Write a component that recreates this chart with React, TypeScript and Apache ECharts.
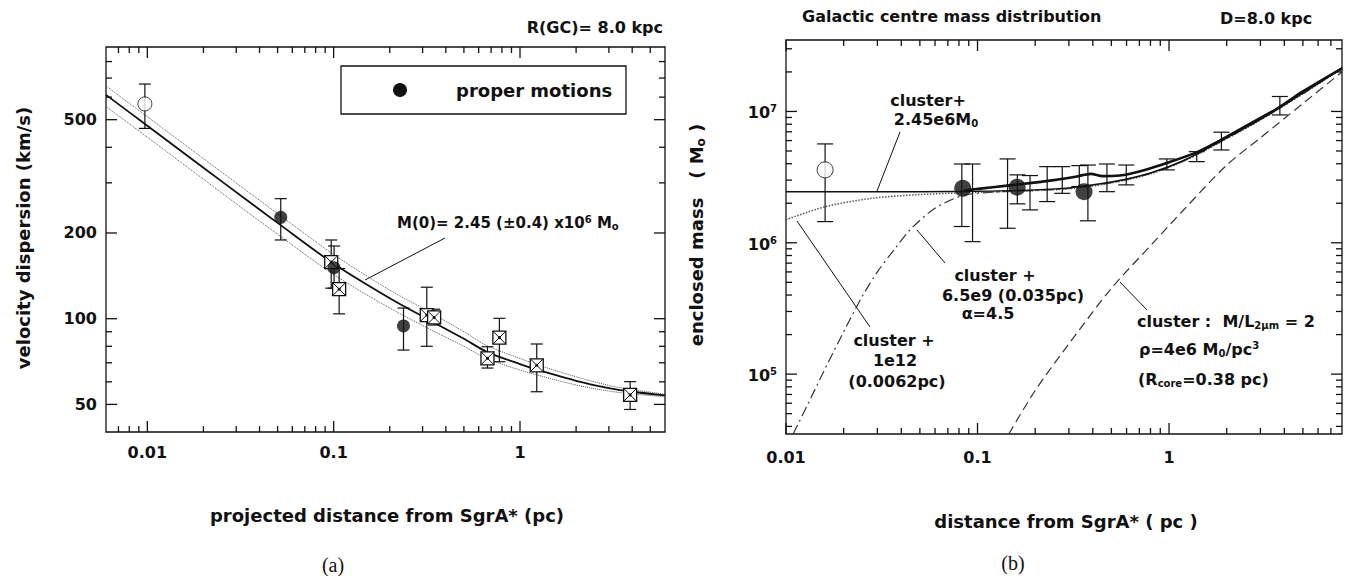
import React, { useEffect, useRef } from "react";
import * as echarts from "echarts";

const FONT = '"DejaVu Sans", "Liberation Sans", sans-serif';
const SERIF = '"Liberation Serif", "DejaVu Serif", serif';
const INK = "#111";

// ---------------- panel (a) ----------------
const aXRange = [0.006, 6];
const aYRange = [40, 900];
const aXMajor = [0.01, 0.1, 1];
const aXLabels = ["0.01", "0.1", "1"];
const aXMinor = [0.007, 0.008, 0.009, 0.02, 0.03, 0.04, 0.05, 0.06, 0.07, 0.08, 0.09, 0.2, 0.3, 0.4, 0.5, 0.6, 0.7, 0.8, 0.9, 2, 3, 4, 5];
const aYMajor = [50, 100, 200, 500];
const aYLabels = ["50", "100", "200", "500"];
const aYMinor = [60, 70, 80, 90, 300, 400, 600, 700, 800];

// [projected distance (pc), dispersion (km/s), low, high]
const aOpenCircle = [[0.0097, 568, 466, 667]];
const aProperMotions = [[0.052, 227, 189, 264], [0.1005, 151, 128, 180], [0.237, 94.3, 77.6, 109]];
const aRadialVel = [
  [0.097, 158, 128, 189], [0.107, 127, 104, 150], [0.316, 103, 80, 129], [0.346, 101, 95, 108],
  [0.669, 72.6, 67.1, 79.7], [0.775, 85.8, 70.6, 100.3], [1.23, 68.6, 55.4, 81.5], [3.9, 54, 48, 60.1],
];
const aFitCentral = [[0.006, 611], [0.01, 476], [0.02, 339], [0.035, 258], [0.05, 217], [0.1, 156], [0.2, 118], [0.316, 100], [0.5, 85], [0.663, 76.5], [1, 69.3], [1.23, 66.3], [2, 60.5], [3, 57], [3.9, 55.5], [6, 53.8]];
const aFitUpper = [[0.006, 657], [0.01, 512], [0.02, 365], [0.035, 278], [0.05, 234], [0.1, 168], [0.2, 126], [0.316, 107], [0.5, 90], [0.663, 80.5], [1, 72.5], [1.23, 69], [2, 62.5], [3, 58.3], [3.9, 56.5], [6, 54.3]];
const aFitLower = [[0.006, 556], [0.01, 434], [0.02, 309], [0.035, 235], [0.05, 198], [0.1, 143], [0.2, 109], [0.316, 93], [0.5, 80], [0.663, 72.5], [1, 66], [1.23, 63.5], [2, 58.5], [3, 55.7], [3.9, 54.5], [6, 53.2]];

// ---------------- panel (b) ----------------
const bXRange = [0.01, 8];
const bYRange = [3.5e4, 3.5e7];
const bXMajor = [0.01, 0.1, 1];
const bXLabels = ["0.01", "0.1", "1"];
const bXMinor = [0.02, 0.03, 0.04, 0.05, 0.06, 0.07, 0.08, 0.09, 0.2, 0.3, 0.4, 0.5, 0.6, 0.7, 0.8, 0.9, 2, 3, 4, 5, 6, 7];
const bYMajor = [1e5, 1e6, 1e7];
const bYExponents = ["5", "6", "7"];
const bYMinor = [4e4, 5e4, 6e4, 7e4, 8e4, 9e4, 2e5, 3e5, 4e5, 5e5, 6e5, 7e5, 8e5, 9e5, 2e6, 3e6, 4e6, 5e6, 6e6, 7e6, 8e6, 9e6, 2e7, 3e7];

// [distance (pc), enclosed mass (Msun), low, high]
const bOpenCircle = [[0.016, 3.59e6, 1.45e6, 5.66e6]];
const bFilled = [[0.0837, 2.6e6], [0.161, 2.65e6], [0.36, 2.45e6]];
// [distance, low, high]
const bErrBars = [
  [0.0828, 1.33e6, 3.98e6], [0.0942, 1.02e6, 3.98e6], [0.1435, 1.29e6, 4.35e6], [0.1614, 1.98e6, 3.29e6],
  [0.188, 1.78e6, 3.25e6], [0.231, 2.06e6, 3.8e6], [0.277, 2.38e6, 3.8e6], [0.34, 2.68e6, 3.87e6],
  [0.377, 1.47e6, 3.91e6], [0.474, 2.45e6, 3.98e6], [0.598, 2.76e6, 3.91e6], [0.974, 3.59e6, 4.35e6],
  [1.395, 4.15e6, 4.94e6], [1.877, 5.09e6, 6.95e6], [3.79, 9.41e6, 1.3e7],
];
const bPointMass = [[0.01, 2.45e6], [0.05, 2.45e6], [0.1, 2.47e6], [0.2, 2.53e6], [0.3, 2.62e6], [0.5, 2.9e6], [0.8, 3.4e6], [1.2, 4.25e6], [2, 6.3e6], [3, 8.7e6], [5, 1.38e7], [8, 2.15e7]];
const bDataMass = [[0.085, 2.5e6], [0.12, 2.65e6], [0.17, 2.8e6], [0.25, 3.0e6], [0.33, 3.2e6], [0.39, 3.35e6], [0.45, 3.22e6], [0.55, 3.25e6], [0.65, 3.4e6], [0.8, 3.7e6], [1.0, 4.1e6], [1.4, 4.9e6], [1.8, 5.9e6], [2.5, 7.7e6], [3.7, 1.06e7], [5, 1.42e7], [8, 2.13e7]];
const bCluster1e12 = [[0.01, 1.5e6], [0.016, 1.88e6], [0.028, 2.18e6], [0.05, 2.33e6], [0.083, 2.4e6], [0.12, 2.44e6], [0.2, 2.5e6], [0.3, 2.58e6], [0.5, 2.85e6], [0.8, 3.35e6], [1.2, 4.2e6], [2, 6.2e6], [3, 8.6e6], [5, 1.36e7], [8, 2.12e7]];
const bCluster6e9 = [[0.0109, 3.5e4], [0.013, 5.9e4], [0.016, 1.1e5], [0.02, 2.1e5], [0.025, 3.9e5], [0.03, 6.0e5], [0.037, 9.0e5], [0.045, 1.28e6], [0.06, 1.83e6], [0.083, 2.28e6], [0.12, 2.43e6], [0.2, 2.5e6], [0.3, 2.6e6], [0.5, 2.87e6], [0.8, 3.38e6], [1.2, 4.22e6], [2, 6.25e6], [3, 8.65e6], [5, 1.37e7], [8, 2.13e7]];
const bClusterOnly = [[0.1457, 3.5e4], [0.2, 7.5e4], [0.3, 1.7e5], [0.5, 4.5e5], [0.8, 9.5e5], [1.2, 1.8e6], [2, 3.9e6], [3, 6.3e6], [5, 1.15e7], [8, 2.0e7]];

// ---------------- helpers ----------------
function richSet(size: number) {
  const base = { fontFamily: FONT, fontWeight: "bold", fill: INK, color: INK };
  const small = Math.round(size * 0.65);
  return {
    n: { ...base, fontSize: size, lineHeight: size + 4, padding: [0, 0, 5, 0] },
    sup: { ...base, fontSize: small, lineHeight: small + 2, padding: [0, 0, size + 7 - small, 0] },
    sub: { ...base, fontSize: small, lineHeight: small + 2, padding: [size + 2 - small, 0, 5, 0] },
  };
}

function txt(x: number, y: number, text: string, size: number, align = "left", extra: any = {}) {
  return {
    type: "text",
    x,
    y,
    silent: true,
    rotation: extra.rotation || 0,
    style: {
      text,
      fontFamily: extra.family || FONT,
      fontWeight: extra.weight || "bold",
      fontSize: size,
      fill: INK,
      align,
      verticalAlign: "middle",
      textAlign: align,
      textVerticalAlign: "middle",
      rich: extra.rich,
    },
  };
}

function rtxt(x: number, y: number, text: string, size: number, align = "left", rotation = 0) {
  return txt(x, y, text, size, align, { rich: richSet(size), rotation });
}

function leader(x1: number, y1: number, x2: number, y2: number) {
  return { type: "line", silent: true, shape: { x1, y1, x2, y2 }, style: { stroke: INK, lineWidth: 1 } };
}

function logAxis(idx: number, range: number[]) {
  return {
    type: "log",
    logBase: 10,
    gridIndex: idx,
    min: range[0],
    max: range[1],
    axisLine: { show: false },
    axisTick: { show: false },
    axisLabel: { show: false },
    splitLine: { show: false },
    minorTick: { show: false },
    minorSplitLine: { show: false },
  };
}

function tickSeries(idx: number, xMajor: number[], xMinor: number[], yMajor: number[], yMinor: number[], xr: number[], yr: number[]) {
  const data = [
    ...xMajor.map((v) => [v, yr[0], 0, 1]),
    ...xMinor.map((v) => [v, yr[0], 0, 0]),
    ...yMajor.map((v) => [xr[0], v, 1, 1]),
    ...yMinor.map((v) => [xr[0], v, 1, 0]),
  ];
  return {
    type: "custom",
    xAxisIndex: idx,
    yAxisIndex: idx,
    silent: true,
    clip: false,
    z: 6,
    data,
    renderItem: (params: any, api: any) => {
      const cs = params.coordSys;
      const p = api.coord([api.value(0), api.value(1)]);
      const isY = api.value(2) === 1;
      const len = api.value(3) === 1 ? 11 : 6;
      const st = { stroke: INK, lineWidth: 1.3 };
      if (!isY) {
        const b = cs.y + cs.height;
        return {
          type: "group",
          children: [
            { type: "line", shape: { x1: p[0], y1: b, x2: p[0], y2: b - len }, style: st },
            { type: "line", shape: { x1: p[0], y1: cs.y, x2: p[0], y2: cs.y + len }, style: st },
          ],
        };
      }
      const r = cs.x + cs.width;
      return {
        type: "group",
        children: [
          { type: "line", shape: { x1: cs.x, y1: p[1], x2: cs.x + len, y2: p[1] }, style: st },
          { type: "line", shape: { x1: r, y1: p[1], x2: r - len, y2: p[1] }, style: st },
        ],
      };
    },
  };
}

function xLabelSeries(idx: number, vals: number[], labels: string[], yMin: number, offset: number) {
  return {
    type: "custom",
    xAxisIndex: idx,
    yAxisIndex: idx,
    silent: true,
    clip: false,
    data: vals.map((v) => [v, yMin]),
    renderItem: (params: any, api: any) => {
      const cs = params.coordSys;
      const p = api.coord([api.value(0), api.value(1)]);
      return {
        type: "text",
        style: {
          text: labels[params.dataIndex],
          x: p[0],
          y: cs.y + cs.height + offset,
          fontFamily: FONT,
          fontWeight: "bold",
          fontSize: 16,
          fill: INK,
          align: "center",
          verticalAlign: "middle",
          textAlign: "center",
          textVerticalAlign: "middle",
        },
      };
    },
  };
}

function yLabelSeries(idx: number, vals: number[], labels: string[], xMin: number, rich: boolean) {
  return {
    type: "custom",
    xAxisIndex: idx,
    yAxisIndex: idx,
    silent: true,
    clip: false,
    data: vals.map((v) => [xMin, v]),
    renderItem: (params: any, api: any) => {
      const cs = params.coordSys;
      const p = api.coord([api.value(0), api.value(1)]);
      const lab = labels[params.dataIndex];
      return {
        type: "text",
        style: {
          text: rich ? `{n|10}{sup|${lab}}` : lab,
          rich: rich ? richSet(16) : undefined,
          x: cs.x - 9,
          y: p[1] + (rich ? 4 : 0),
          fontFamily: FONT,
          fontWeight: "bold",
          fontSize: 16,
          fill: INK,
          align: "right",
          verticalAlign: "middle",
          textAlign: "right",
          textVerticalAlign: "middle",
        },
      };
    },
  };
}

function errSeries(idx: number, data: number[][], cap: number) {
  return {
    type: "custom",
    xAxisIndex: idx,
    yAxisIndex: idx,
    silent: true,
    z: 3,
    data,
    encode: { x: 0, y: [1, 2] },
    renderItem: (params: any, api: any) => {
      const x = api.value(0);
      const lo = api.coord([x, api.value(1)]);
      const hi = api.coord([x, api.value(2)]);
      const st = { stroke: INK, lineWidth: 1.2 };
      return {
        type: "group",
        children: [
          { type: "line", shape: { x1: lo[0], y1: lo[1], x2: hi[0], y2: hi[1] }, style: st },
          { type: "line", shape: { x1: lo[0] - cap, y1: lo[1], x2: lo[0] + cap, y2: lo[1] }, style: st },
          { type: "line", shape: { x1: hi[0] - cap, y1: hi[1], x2: hi[0] + cap, y2: hi[1] }, style: st },
        ],
      };
    },
  };
}

function squareSeries(idx: number, data: number[][]) {
  return {
    type: "custom",
    xAxisIndex: idx,
    yAxisIndex: idx,
    silent: true,
    z: 5,
    data,
    renderItem: (params: any, api: any) => {
      const p = api.coord([api.value(0), api.value(1)]);
      const h = 6.5;
      const st = { stroke: INK, lineWidth: 1 };
      return {
        type: "group",
        children: [
          { type: "rect", shape: { x: p[0] - h, y: p[1] - h, width: 2 * h, height: 2 * h }, style: { fill: "#fff", stroke: INK, lineWidth: 1.3 } },
          { type: "line", shape: { x1: p[0] - h, y1: p[1] - h, x2: p[0] + h, y2: p[1] + h }, style: st },
          { type: "line", shape: { x1: p[0] + h, y1: p[1] - h, x2: p[0] - h, y2: p[1] + h }, style: st },
          { type: "circle", shape: { cx: p[0], cy: p[1], r: 1.5 }, style: { fill: INK } },
        ],
      };
    },
  };
}

function lineSeries(idx: number, data: number[][], lineStyle: any, z = 2) {
  return {
    type: "line",
    xAxisIndex: idx,
    yAxisIndex: idx,
    data,
    showSymbol: false,
    symbol: "none",
    smooth: 0.3,
    silent: true,
    z,
    lineStyle,
  };
}

function buildOption() {
  return {
    animation: false,
    backgroundColor: "#fff",
    grid: [
      { left: 106, top: 47, width: 559, height: 385, show: true, borderColor: INK, borderWidth: 1.3, backgroundColor: "transparent" },
      { left: 786, top: 40, width: 556, height: 394, show: true, borderColor: INK, borderWidth: 1.3, backgroundColor: "transparent" },
    ],
    xAxis: [logAxis(0, aXRange), logAxis(1, bXRange)],
    yAxis: [logAxis(0, aYRange), logAxis(1, bYRange)],
    series: [
      // panel a
      tickSeries(0, aXMajor, aXMinor, aYMajor, aYMinor, aXRange, aYRange),
      xLabelSeries(0, aXMajor, aXLabels, aYRange[0], 20),
      yLabelSeries(0, aYMajor, aYLabels, aXRange[0], false),
      lineSeries(0, aFitUpper, { color: "#555", width: 1, type: "dotted" }),
      lineSeries(0, aFitLower, { color: "#555", width: 1, type: "dotted" }),
      lineSeries(0, aFitCentral, { color: INK, width: 1.8, type: "solid" }),
      errSeries(0, aOpenCircle.map((d) => [d[0], d[2], d[3]]), 6),
      errSeries(0, aProperMotions.map((d) => [d[0], d[2], d[3]]), 6),
      errSeries(0, aRadialVel.map((d) => [d[0], d[2], d[3]]), 6),
      {
        type: "scatter", name: "open", xAxisIndex: 0, yAxisIndex: 0, silent: true, z: 5,
        data: aOpenCircle.map((d) => [d[0], d[1]]), symbol: "circle", symbolSize: 14,
        itemStyle: { color: "#fff", borderColor: INK, borderWidth: 1 },
      },
      squareSeries(0, aRadialVel.map((d) => [d[0], d[1]])),
      {
        type: "scatter", name: "proper motions", xAxisIndex: 0, yAxisIndex: 0, silent: true, z: 6,
        data: aProperMotions.map((d) => [d[0], d[1]]), symbol: "circle", symbolSize: 13,
        itemStyle: { color: INK },
      },
      // panel b
      tickSeries(1, bXMajor, bXMinor, bYMajor, bYMinor, bXRange, bYRange),
      xLabelSeries(1, bXMajor, bXLabels, bYRange[0], 23),
      yLabelSeries(1, bYMajor, bYExponents, bXRange[0], true),
      lineSeries(1, bClusterOnly, { color: "#333", width: 1.2, type: [9, 5] }),
      lineSeries(1, bCluster6e9, { color: "#333", width: 1.2, type: [10, 4, 2, 4] }),
      lineSeries(1, bCluster1e12, { color: "#555", width: 1.5, type: "dotted" }),
      lineSeries(1, bPointMass, { color: INK, width: 1.4, type: "solid" }),
      lineSeries(1, bDataMass, { color: INK, width: 2.6, type: "solid" }, 3),
      errSeries(1, bErrBars, 8),
      errSeries(1, bOpenCircle.map((d) => [d[0], d[2], d[3]]), 8),
      {
        type: "scatter", name: "open b", xAxisIndex: 1, yAxisIndex: 1, silent: true, z: 5,
        data: bOpenCircle.map((d) => [d[0], d[1]]), symbol: "circle", symbolSize: 16,
        itemStyle: { color: "#fff", borderColor: INK, borderWidth: 1 },
      },
      {
        type: "scatter", name: "mass points", xAxisIndex: 1, yAxisIndex: 1, silent: true, z: 6,
        data: bFilled, symbol: "circle", symbolSize: 17, itemStyle: { color: INK },
      },
    ],
    graphic: [
      // panel a texts
      txt(663, 27, "R(GC)= 8.0 kpc", 16, "right"),
      { type: "rect", silent: true, shape: { x: 341, y: 66, width: 285, height: 48 }, style: { fill: "#fff", stroke: INK, lineWidth: 1.3 } },
      { type: "circle", silent: true, shape: { cx: 400, cy: 90, r: 7 }, style: { fill: INK } },
      txt(456, 90, "proper motions", 18),
      rtxt(397, 225, "{n|M(0)= 2.45 (±0.4) x10}{sup|6}{n| M}{sub|o}", 15),
      leader(445, 238, 365, 280),
      txt(23, 238, "velocity dispersion (km/s)", 18, "center", { rotation: Math.PI / 2 }),
      txt(387, 515, "projected distance from SgrA* (pc)", 18, "center"),
      txt(333, 565, "(a)", 20, "center", { family: SERIF, weight: "normal" }),
      // panel b texts
      txt(802, 16, "Galactic centre mass distribution", 16),
      txt(1220, 18, "D=8.0 kpc", 16),
      rtxt(699, 235, "{n|enclosed mass   ( M}{sub|o}{n| )}", 18, "center", Math.PI / 2),
      txt(1066, 521, "distance from SgrA* ( pc )", 18, "center"),
      txt(1013, 563, "(b)", 20, "center", { family: SERIF, weight: "normal" }),
      txt(928, 100, "cluster+", 16, "center"),
      rtxt(936, 122, "{n|2.45e6M}{sub|0}", 16, "center"),
      leader(900, 132, 877, 191),
      txt(995, 275, "cluster +", 16, "center"),
      txt(1013, 295, "6.5e9 (0.035pc)", 16, "center"),
      txt(988, 313, "α=4.5", 16, "center"),
      leader(917, 230, 945, 263),
      txt(894, 340, "cluster +", 16, "center"),
      txt(895, 360, "1e12", 16, "center"),
      txt(897, 381, "(0.0062pc)", 16, "center"),
      leader(797, 221, 870, 327),
      rtxt(1137, 324, "{n|cluster :  M/L}{sub|2μm}{n| = 2}", 16),
      rtxt(1139, 352, "{n|ρ=4e6 M}{sub|0}{n|/pc}{sup|3}", 16),
      rtxt(1138, 382, "{n|(R}{sub|core}{n|=0.38 pc)}", 16),
      leader(1120, 282, 1147, 310),
    ],
  };
}

export default function App() {
  const ref = useRef<HTMLDivElement>(null);
  useEffect(() => {
    if (!ref.current) return;
    const chart = echarts.init(ref.current, null, { renderer: "svg" });
    chart.setOption(buildOption() as any);
    return () => chart.dispose();
  }, []);
  return (
    <div
      ref={ref}
      style={{ position: "fixed", left: 0, top: 0, width: 1346, height: 576, background: "#fff" }}
    />
  );
}
